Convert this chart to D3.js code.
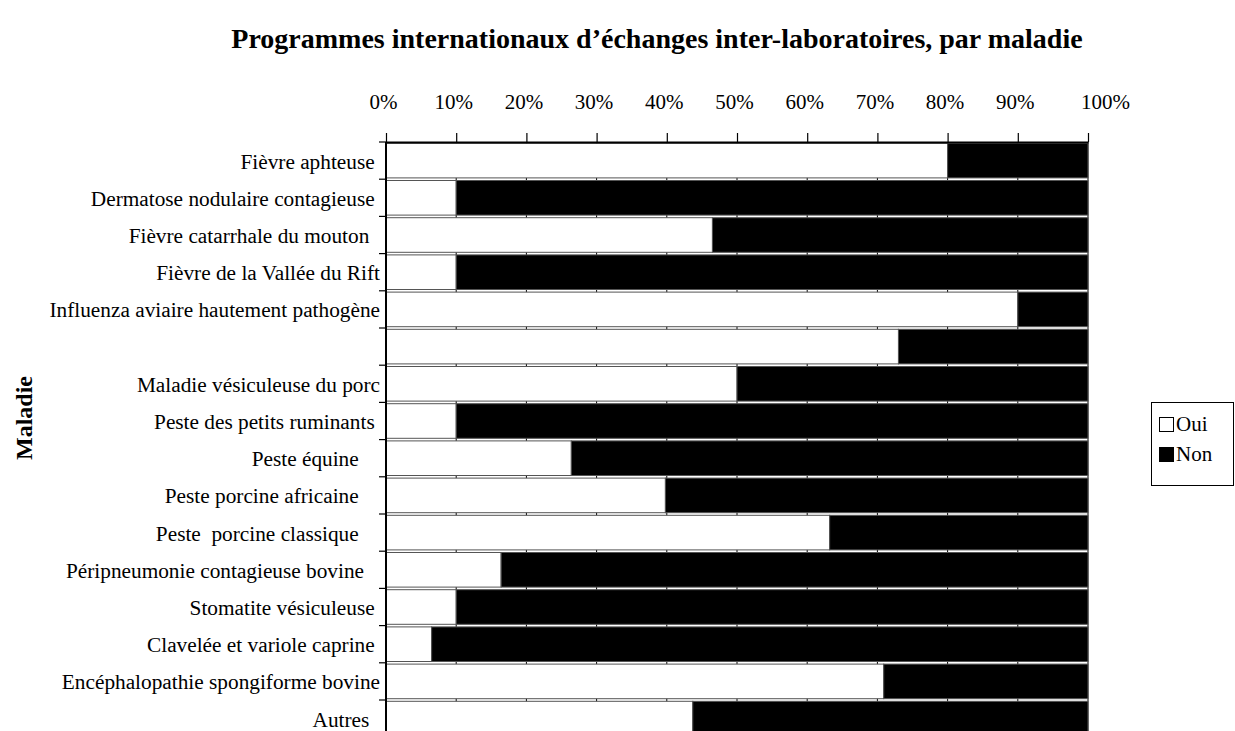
<!DOCTYPE html>
<html>
<head>
<meta charset="utf-8">
<script src="https://cdn.jsdelivr.net/npm/d3@7"></script>
<style>
  body { margin: 0; background: #fff; }
  text { font-family: "Liberation Serif", "Times New Roman", serif; fill: #000; }
</style>
</head>
<body>
<script>
// categories (trailing spaces kept as in the source labels)
var maladies = [
  "Fièvre aphteuse ",
  "Dermatose nodulaire contagieuse ",
  "Fièvre catarrhale du mouton  ",
  "Fièvre de la Vallée du Rift",
  "Influenza aviaire hautement pathogène",
  "",
  "Maladie vésiculeuse du porc",
  "Peste des petits ruminants ",
  "Peste équine    ",
  "Peste porcine africaine    ",
  "Peste  porcine classique    ",
  "Péripneumonie contagieuse bovine   ",
  "Stomatite vésiculeuse ",
  "Clavelée et variole caprine ",
  "Encéphalopathie spongiforme bovine",
  "Autres  "
];
// share of "Oui" answers (%), the rest is "Non"
var oui = [80, 10, 46.5, 10, 90, 73, 50, 10, 26.4, 39.8, 63.2, 16.4, 10, 6.5, 70.9, 43.7];
var non = oui.map(function(v) { return 100 - v; });
var ticks = [0, 0.1, 0.2, 0.3, 0.4, 0.5, 0.6, 0.7, 0.8, 0.9, 1];
var series = ["Oui", "Non"];
var colors = ["#ffffff", "#000000"];

var width = 1235, height = 731;
var plotLeft = 386, plotRight = 1088, plotTop = 142;

var svg = d3.select("body").append("svg")
    .attr("width", width)
    .attr("height", height);

var x = d3.scaleLinear().domain([0, 1]).range([plotLeft, plotRight]);
var y = d3.scaleBand()
    .domain(d3.range(maladies.length))
    .range([plotTop, plotTop + 37.2 * maladies.length])
    .paddingInner(0.07)
    .paddingOuter(0.035);

// title
svg.append("text")
    .attr("x", 657)
    .attr("y", 48)
    .attr("text-anchor", "middle")
    .style("font-size", "28px")
    .style("font-weight", "bold")
    .text("Programmes internationaux d\u2019échanges inter-laboratoires, par maladie");

// vertical gridlines, mostly hidden behind the bars
svg.append("g").selectAll("line")
    .data(ticks.slice(1))
    .enter().append("line")
    .attr("x1", function(d) { return x(d); })
    .attr("x2", function(d) { return x(d); })
    .attr("y1", plotTop)
    .attr("y2", height)
    .attr("stroke", "#000")
    .attr("stroke-width", 1);

// stacked bars
var rows = maladies.map(function(m, i) {
  return [{ x0: 0, x1: oui[i] / 100, s: 0, i: i },
          { x0: oui[i] / 100, x1: (oui[i] + non[i]) / 100, s: 1, i: i }];
});
svg.append("g").selectAll("g")
    .data(rows)
    .enter().append("g")
    .selectAll("rect")
    .data(function(d) { return d; })
    .enter().append("rect")
    .attr("x", function(d) { return x(d.x0); })
    .attr("width", function(d) { return x(d.x1) - x(d.x0); })
    .attr("y", function(d) { return y(d.i); })
    .attr("height", y.bandwidth())
    .attr("fill", function(d) { return colors[d.s]; })
    .attr("stroke", "#555")
    .attr("stroke-width", 1);

// top axis
var xAxis = d3.axisTop(x)
    .tickValues(ticks)
    .tickFormat(d3.format(".0%"))
    .tickSizeInner(9)
    .tickSizeOuter(0)
    .tickPadding(24);
var gx = svg.append("g")
    .attr("transform", "translate(0," + plotTop + ")")
    .call(xAxis);
gx.select(".domain").attr("stroke-width", 2);
gx.selectAll(".tick line").attr("stroke-width", 1.2);
gx.selectAll(".tick text")
    .style("font-size", "21px")
    .style("font-family", "'Liberation Serif', serif")
    .attr("dx", function(d) { return d === 1 ? 17 : -3; });

// left axis line with ticks at row boundaries
var gy = svg.append("g");
gy.append("line")
    .attr("x1", plotLeft).attr("x2", plotLeft)
    .attr("y1", plotTop).attr("y2", height)
    .attr("stroke", "#000")
    .attr("stroke-width", 2);
gy.selectAll(".bnd")
    .data(d3.range(maladies.length + 1))
    .enter().append("line")
    .attr("x1", plotLeft - 7).attr("x2", plotLeft)
    .attr("y1", function(i) { return plotTop + i * y.step(); })
    .attr("y2", function(i) { return plotTop + i * y.step(); })
    .attr("stroke", "#000")
    .attr("stroke-width", 1.2);

// category labels
gy.selectAll(".lab")
    .data(maladies)
    .enter().append("text")
    .attr("x", 380)
    .attr("y", function(d, i) { return y(i) + y.bandwidth() / 2; })
    .attr("dy", "0.38em")
    .attr("text-anchor", "end")
    .style("font-size", "21.3px")
    .style("white-space", "pre")
    .text(function(d) { return d; });

// y title
svg.append("text")
    .attr("transform", "translate(32,418) rotate(-90)")
    .attr("text-anchor", "middle")
    .style("font-size", "24px")
    .style("font-weight", "bold")
    .text("Maladie");

// legend
var lg = svg.append("g");
lg.append("rect")
    .attr("x", 1151.5).attr("y", 402.5)
    .attr("width", 82).attr("height", 83)
    .attr("fill", "#fff")
    .attr("stroke", "#000")
    .attr("stroke-width", 1);
var items = lg.selectAll(".item")
    .data(series)
    .enter().append("g")
    .attr("transform", function(d, i) { return "translate(1159," + (417 + i * 30) + ")"; });
items.append("rect")
    .attr("x", 0.5).attr("y", 0.5)
    .attr("width", 14).attr("height", 14)
    .attr("fill", function(d, i) { return colors[i]; })
    .attr("stroke", "#000");
items.append("text")
    .attr("x", 17)
    .attr("y", 14)
    .style("font-size", "21px")
    .text(function(d) { return d; });
</script>
</body>
</html>
